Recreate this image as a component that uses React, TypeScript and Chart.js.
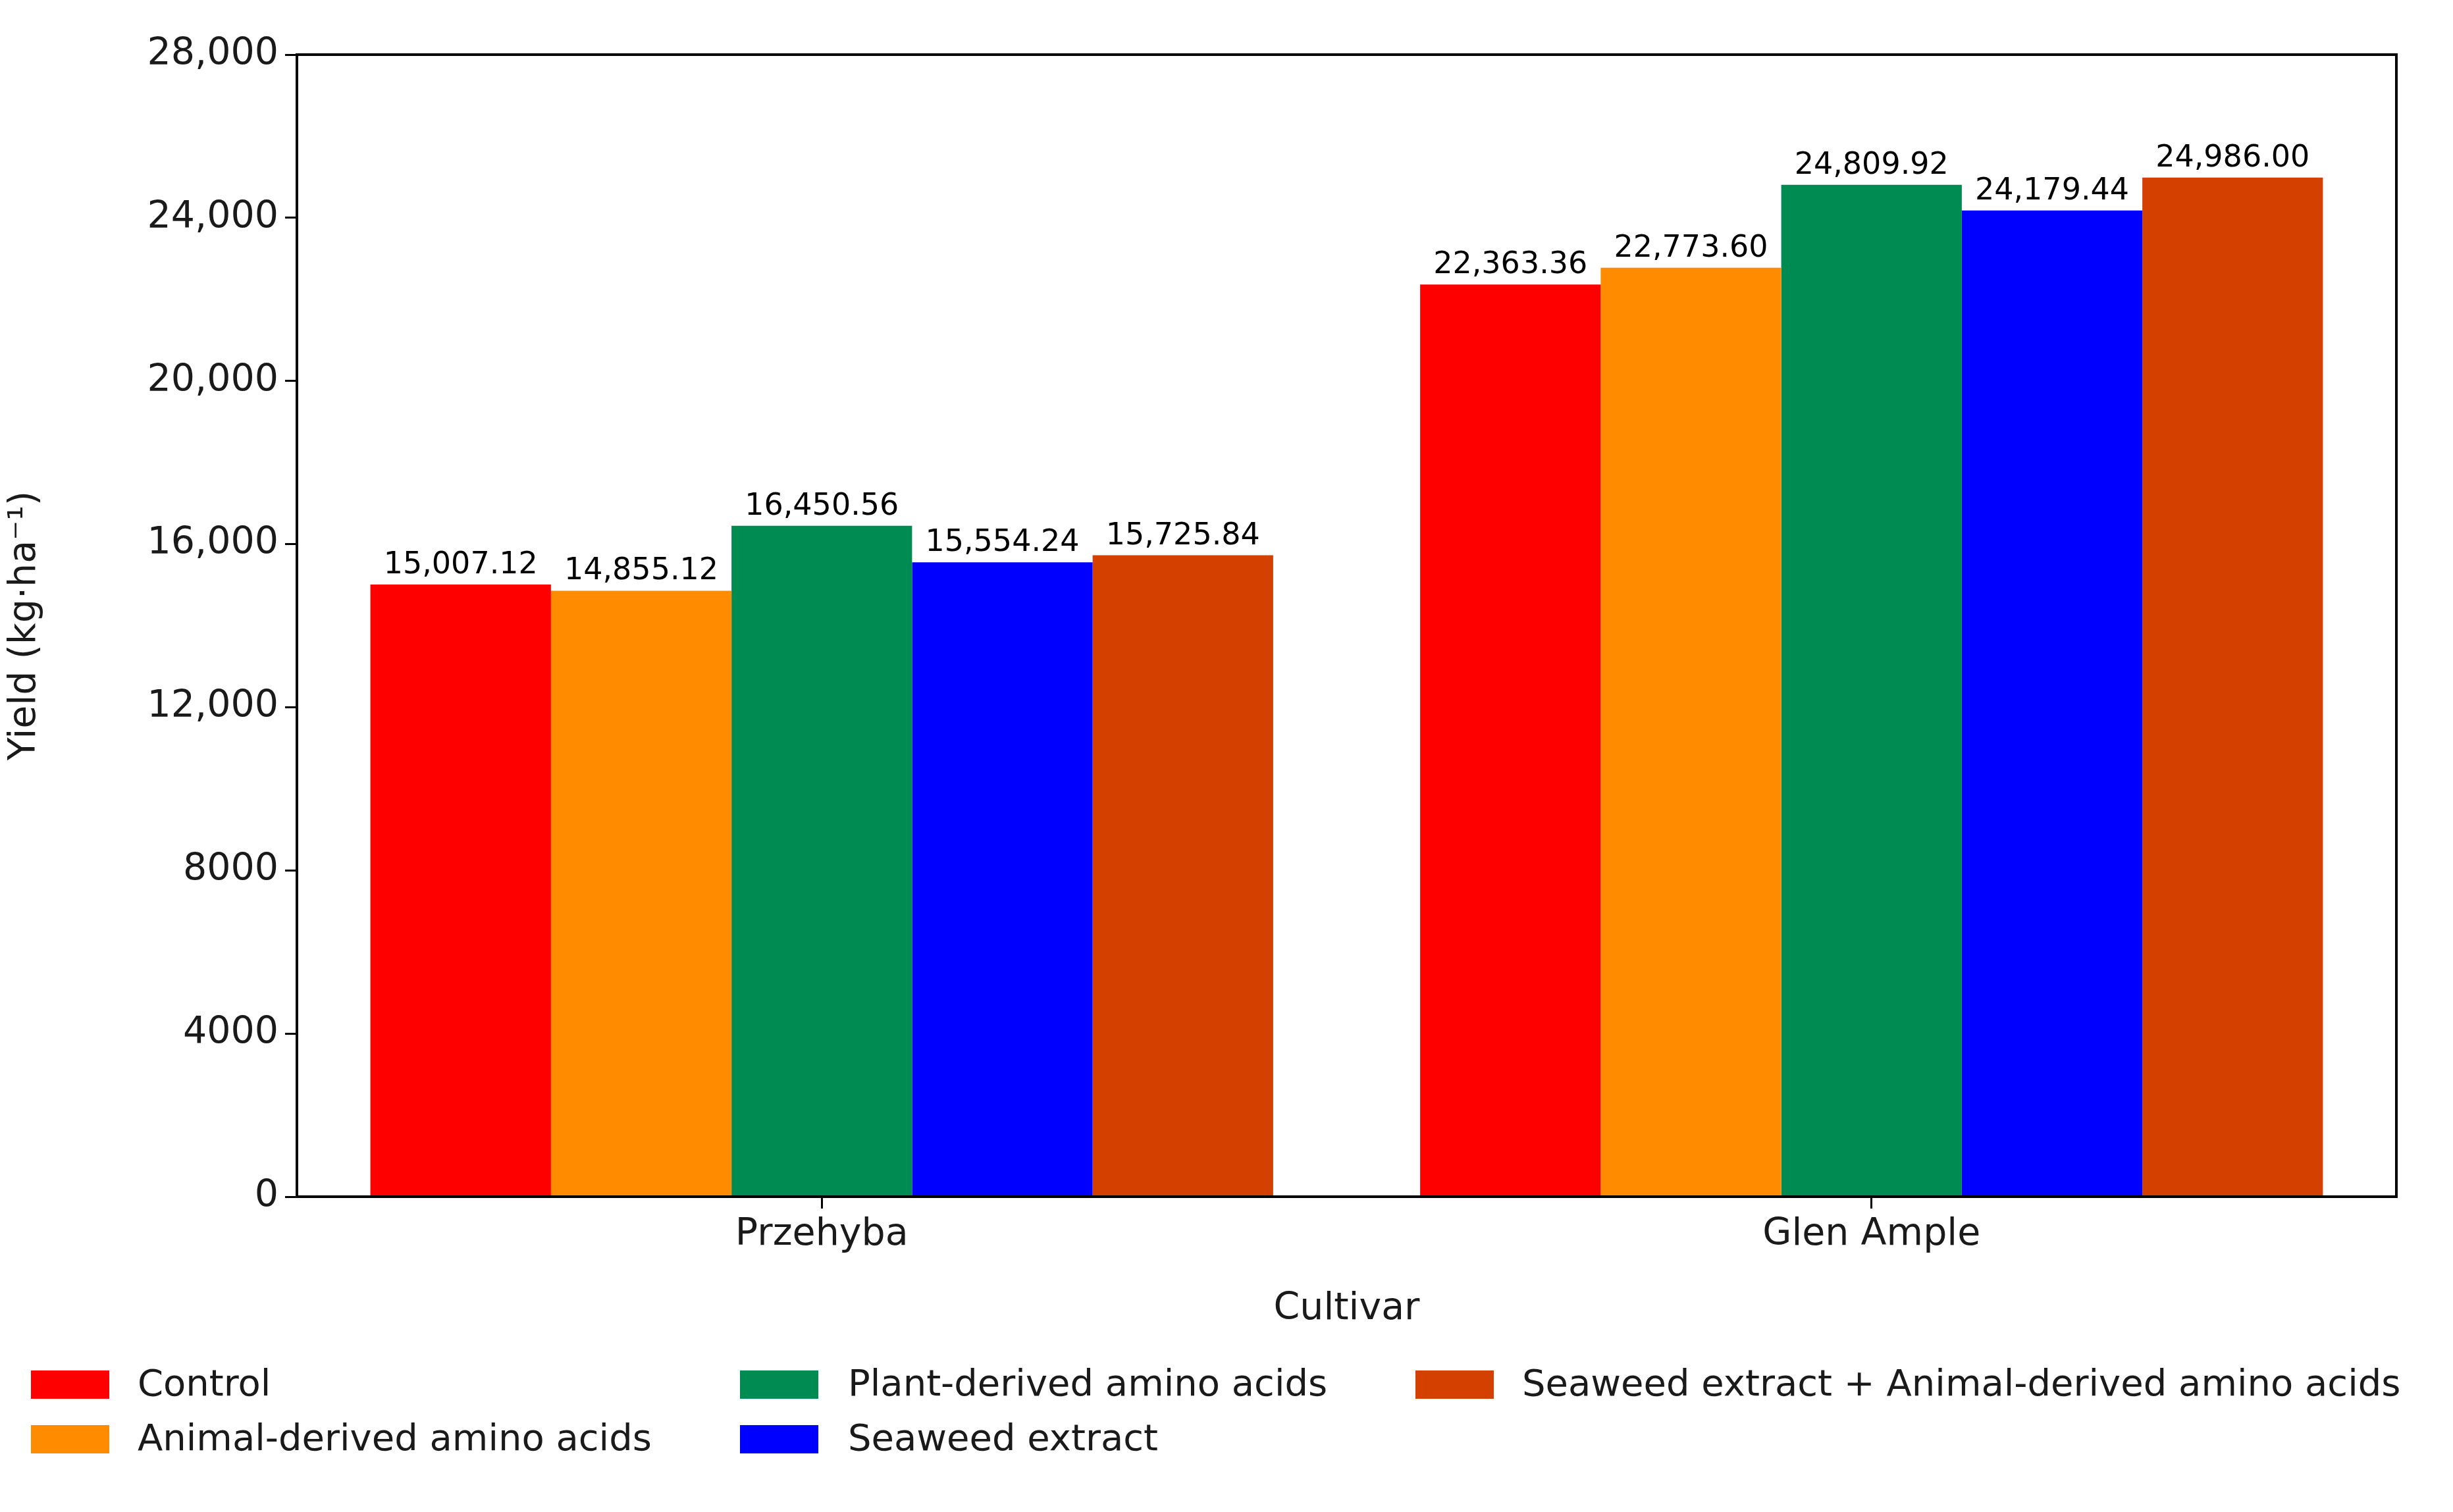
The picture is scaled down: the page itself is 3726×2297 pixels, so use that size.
import React, { useEffect, useRef } from "react";
import { Chart, registerables } from "chart.js";
Chart.register(...registerables);

const categories = ["Przehyba", "Glen Ample"];
const seriesNames = ["Control", "Animal-derived amino acids", "Plant-derived amino acids", "Seaweed extract", "Seaweed extract + Animal-derived amino acids"];
const seriesColors = ["#ff0000", "#ff8c00", "#008b52", "#0000ff", "#d34000"];
const control = [15007.12, 22363.36];
const animal = [14855.12, 22773.6];
const plant = [16450.56, 24809.92];
const seaweed = [15554.24, 24179.44];
const seaweedAnimal = [15725.84, 24986.0];
const seriesValues = [control, animal, plant, seaweed, seaweedAnimal];
const yTicks = [0, 4000, 8000, 12000, 16000, 20000, 24000, 28000];

const FONT = "'DejaVu Sans', sans-serif";
const fmtTick = (v: number) => (v >= 10000 ? v.toLocaleString("en-US") : String(v));
const fmtLabel = (v: number) => v.toLocaleString("en-US", { minimumFractionDigits: 2, maximumFractionDigits: 2 });

export default function App() {
  const ref = useRef<HTMLCanvasElement>(null);
  useEffect(() => {
    document.body.style.margin = "0";
    const plugin = {
      id: "extras",
      afterDraw(chart: any) {
        const { ctx, chartArea: a } = chart;
        ctx.save();
        ctx.strokeStyle = "#000";
        ctx.lineWidth = 4;
        ctx.strokeRect(a.left, a.top, a.right - a.left, a.bottom - a.top);
        ctx.fillStyle = "#000";
        ctx.font = `46px ${FONT}`;
        ctx.textAlign = "center";
        ctx.textBaseline = "bottom";
        chart.data.datasets.forEach((ds: any, i: number) => {
          chart.getDatasetMeta(i).data.forEach((bar: any, j: number) => {
            ctx.fillText(fmtLabel(ds.data[j]), bar.x, bar.y - 6);
          });
        });
        // legend
        const cols = [[47, 209], [1124, 1288], [2150, 2312]];
        const rows = [2103, 2186];
        const order = [[0, 0], [0, 1], [1, 0], [1, 1], [2, 0]];
        ctx.font = `56px ${FONT}`;
        ctx.textAlign = "left";
        ctx.textBaseline = "middle";
        order.forEach(([c, r], i) => {
          const y = rows[r];
          ctx.fillStyle = seriesColors[i];
          ctx.fillRect(cols[c][0], y - 21, 119, 43);
          ctx.fillStyle = "#1a1a1a";
          ctx.fillText(seriesNames[i], cols[c][1], y + 2);
        });
        ctx.restore();
      },
    };
    const chart = new Chart(ref.current!, {
      type: "bar",
      data: {
        labels: categories,
        datasets: seriesValues.map((d, i) => ({
          label: seriesNames[i],
          data: d,
          backgroundColor: seriesColors[i],
          barPercentage: 1,
          categoryPercentage: 0.86,
        })),
      },
      options: {
        animation: false,
        responsive: false,
        devicePixelRatio: 1,
        layout: { padding: { left: 0, right: 86, top: 83, bottom: 270 } },
        plugins: { legend: { display: false }, tooltip: { enabled: false } },
        scales: {
          x: {
            grid: { display: true, drawOnChartArea: false, color: "#000", lineWidth: 3, tickLength: 18, offset: false },
            border: { display: false },
            ticks: { color: "#1a1a1a", font: { family: FONT, size: 57 }, padding: 6 },
            title: { display: true, text: "Cultivar", color: "#1a1a1a", font: { family: FONT, size: 57 }, padding: { top: 10 } },
            afterFit: (s: any) => { s.height = 2297 - 270 - 1818; },
          },
          y: {
            min: 0,
            max: 28000,
            afterBuildTicks: (s: any) => { s.ticks = yTicks.map((v) => ({ value: v })); },
            grid: { display: true, drawOnChartArea: false, color: "#000", lineWidth: 3, tickLength: 18 },
            border: { display: false },
            ticks: { color: "#1a1a1a", font: { family: FONT, size: 57 }, padding: 10, callback: (v: any) => fmtTick(Number(v)) },
            title: { display: true, text: "Yield (kg·ha⁻¹)", color: "#1a1a1a", font: { family: FONT, size: 57 }, padding: { bottom: 0 } },
            afterFit: (s: any) => { s.width = 451; },
          },
        },
      },
      plugins: [plugin],
    });
    return () => chart.destroy();
  }, []);
  return <canvas ref={ref} width={3726} height={2297} style={{ display: "block" }} />;
}
